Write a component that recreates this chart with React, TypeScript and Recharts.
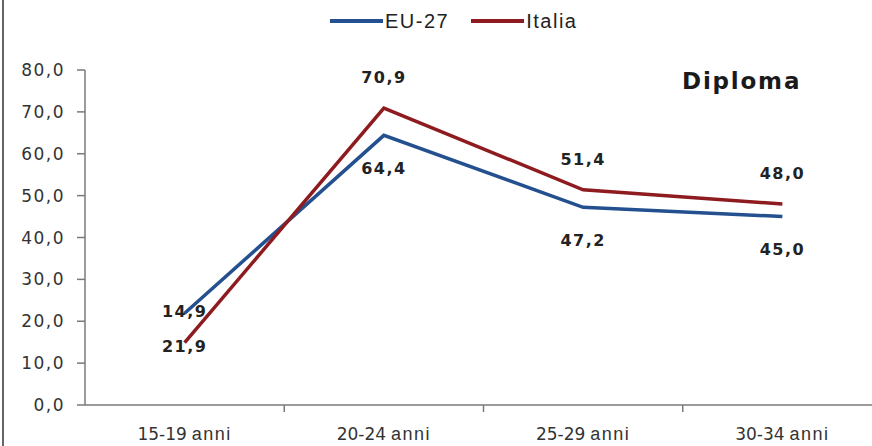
import { LineChart, Line, XAxis, YAxis, LabelList } from 'recharts';

const categories = ['15-19 anni', '20-24 anni', '25-29 anni', '30-34 anni'];
const eu27 = [21.9, 64.4, 47.2, 45.0];
const italia = [14.9, 70.9, 51.4, 48.0];
const yTicks = [0, 10, 20, 30, 40, 50, 60, 70, 80];
// whole numbers carry the age labels, halves carry the small marks between groups
const xTicks = [0, 0.5, 1, 1.5, 2, 2.5, 3];

const data = categories.map((name, i) => ({ idx: i, name, eu: eu27[i], it: italia[i] }));

const BLUE = '#24508f';
const RED = '#8e1b1f';
const AXIS = '#7a7a7a';

const fmt = (v: number) => v.toFixed(1).replace('.', ',');

function XTick(props: any) {
  const { x, y, payload } = props;
  const v = payload.value as number;
  if (!Number.isInteger(v)) {
    return <line x1={x} x2={x} y1={y} y2={y + 7} stroke={AXIS} strokeWidth={1.5} />;
  }
  const label = categories[v];
  const [range, word] = label.split(' ');
  return (
    <text x={x} y={y + 35} textAnchor="middle" fill="#333" fontFamily="DejaVu Sans" fontSize={17}>
      <tspan>{range}</tspan>
      <tspan fontFamily="Liberation Sans" fontSize={18} letterSpacing={1.5} dx={5}>{word}</tspan>
    </text>
  );
}

// EU-27 labels sit under the line, Italia labels above it
const euLabel = (props: any) => {
  const { x, y, value } = props;
  return (
    <text x={x} y={y + 33} dy="0.36em" textAnchor="middle" fill="#222" fontFamily="DejaVu Sans" fontWeight="bold" fontSize={16} letterSpacing={1.5}>
      {fmt(value)}
    </text>
  );
};

const itLabel = (props: any) => {
  const { x, y, value } = props;
  return (
    <text x={x} y={y - 31} dy="0.36em" textAnchor="middle" fill="#222" fontFamily="DejaVu Sans" fontWeight="bold" fontSize={16} letterSpacing={1.5}>
      {fmt(value)}
    </text>
  );
};

export default function App() {
  return (
    <div style={styles.container}>
      <style>{'body{margin:0}'}</style>
      <div style={styles.border} />
      <div style={styles.legend}>
        <span style={{ ...styles.swatch, background: BLUE }} />
        <span style={styles.legendText}>EU-27</span>
        <span style={{ ...styles.swatch, background: RED, marginLeft: 22 }} />
        <span style={styles.legendText}>Italia</span>
      </div>
      <div style={styles.title}>Diploma</div>
      <LineChart width={872} height={446} data={data} margin={{ top: 70, right: -10, bottom: 0, left: -1 }}>
        <XAxis
          type="number"
          dataKey="idx"
          domain={[-0.5, 3.5]}
          ticks={xTicks}
          interval={0}
          tickLine={false}
          tickSize={0}
          tickMargin={0}
          tick={<XTick />}
          height={41}
          axisLine={{ stroke: AXIS, strokeWidth: 1.5 }}
        />
        <YAxis
          domain={[0, 80]}
          ticks={yTicks}
          interval={0}
          tickFormatter={fmt}
          width={86}
          tickSize={8}
          tickMargin={12}
          axisLine={{ stroke: AXIS, strokeWidth: 1.5 }}
          tickLine={{ stroke: AXIS, strokeWidth: 1.5 }}
          tick={{ fill: '#333', fontSize: 17, fontFamily: 'DejaVu Sans', letterSpacing: 1.5 }}
        />
        <Line type="linear" dataKey="eu" name="EU-27" stroke={BLUE} strokeWidth={3.5} dot={false} isAnimationActive={false}>
          <LabelList dataKey="eu" content={euLabel} />
        </Line>
        <Line type="linear" dataKey="it" name="Italia" stroke={RED} strokeWidth={3.5} dot={false} isAnimationActive={false}>
          <LabelList dataKey="it" content={itLabel} />
        </Line>
      </LineChart>
    </div>
  );
}

const styles = {
  container: {
    position: 'relative' as const,
    width: '872px',
    height: '446px',
    backgroundColor: '#fff',
    overflow: 'hidden',
  },
  border: {
    position: 'absolute' as const,
    left: '2px',
    top: 0,
    width: '2px',
    height: '446px',
    backgroundColor: '#666',
  },
  legend: {
    position: 'absolute' as const,
    left: '330px',
    top: '8px',
    height: '26px',
    display: 'flex',
    alignItems: 'center',
  },
  swatch: {
    display: 'inline-block',
    width: '53px',
    height: '4px',
  },
  legendText: {
    fontFamily: 'Liberation Sans',
    fontSize: '20px',
    letterSpacing: '1.5px',
    color: '#222',
    marginLeft: '2px',
  },
  title: {
    position: 'absolute' as const,
    left: '682px',
    top: '68px',
    fontFamily: 'DejaVu Sans',
    fontWeight: 'bold' as const,
    fontSize: '23px',
    letterSpacing: '1.8px',
    color: '#1a1a1a',
  },
};
